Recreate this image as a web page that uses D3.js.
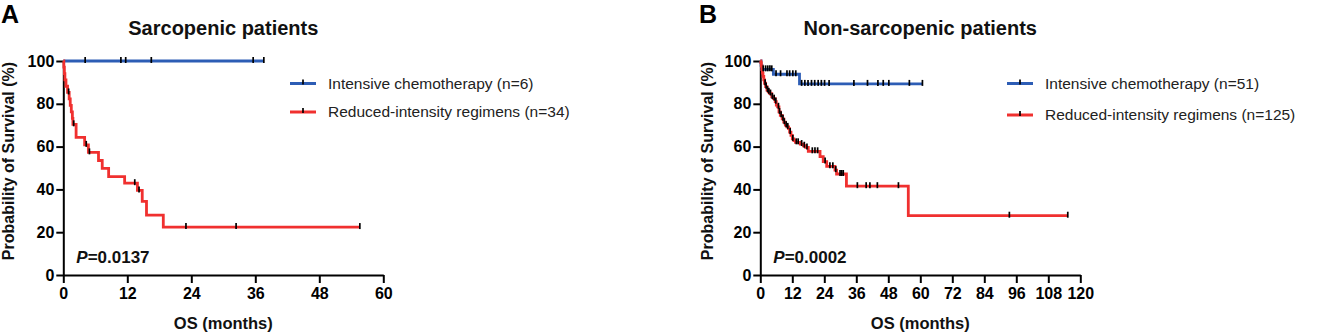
<!DOCTYPE html>
<html>
<head>
<meta charset="utf-8">
<script src="https://cdn.jsdelivr.net/npm/d3@7"></script>
<style>
  body { margin: 0; background: #fff; }
  text { font-family: Arial, "Liberation Sans", Helvetica, sans-serif; }
</style>
</head>
<body>
<svg id="chart"></svg>
<script>
// panel A: sarcopenic patients
const sarcIntTimes = [];
const sarcIntSurv = [];
const sarcIntCensor = [4.1, 10.8, 11.7, 16.5, 35.6, 37.6];
const sarcIntEnd = 37.6;

const sarcRedTimes = [0.1, 0.2, 0.3, 0.5, 0.8, 1.1, 1.3, 1.5, 1.7, 1.8, 2.4, 4.0, 4.7, 6.6, 7.3, 8.5, 11.5, 13.9, 14.8, 15.6, 18.75];
const sarcRedSurv = [97.1, 94.1, 91.2, 88.2, 85.3, 82.3, 79.3, 76.2, 73.2, 70.4, 64.3, 60.8, 57.3, 53.5, 49.8, 46.0, 42.9, 39.5, 34.4, 28.0, 22.4];
const sarcRedCensor = [1.0, 1.95, 4.3, 4.9, 13.4, 14.2, 23.0, 32.4, 55.6];
const sarcRedEnd = 55.6;

// panel B: non-sarcopenic patients
const nonIntTimes = [0.3, 0.6, 4.9, 14.7];
const nonIntSurv = [98.0, 96.1, 93.8, 89.3];
const nonIntCensor = [1.1, 2.0, 2.8, 3.6, 4.3, 5.9, 7.6, 10.0, 11.0, 12.2, 13.3,
  15.5, 16.7, 17.9, 19.2, 20.4, 21.7, 22.9, 24.1, 25.8, 35.1, 40.2, 44.1, 46.1, 48.2, 55.9, 60.8];
const nonIntEnd = 60.8;

const nonRedTimes = [0.2, 0.4, 0.6, 0.8, 1.0, 1.3, 1.6, 2.0, 2.5, 3.0, 3.6, 4.3, 5.0, 5.6, 6.0, 6.5, 7.0, 7.5,
  8.2, 8.8, 9.4, 10.0, 10.6, 11.0, 11.5, 12.0, 12.6, 13.2, 15.0, 16.2, 17.0, 18.0, 22.4, 23.6, 24.9, 28.0, 28.6, 32.3, 55.5];
const nonRedSurv = [99.2, 97.6, 96.0, 94.4, 92.8, 91.2, 89.6, 88.0, 86.4, 85.6, 84.8, 83.2, 82.4, 81.0, 79.4, 78.6, 76.2, 74.6,
  73.0, 71.4, 70.0, 69.2, 68.4, 66.8, 65.2, 63.6, 62.8, 62.0, 61.2, 60.4, 59.6, 57.8, 55.3, 53.0, 50.8, 49.0, 47.2, 41.5, 27.7];
const nonRedCensor = [1.8, 2.2, 2.7, 3.2, 3.8, 4.5, 5.2, 5.8, 6.8, 7.2, 7.8, 8.5, 9.0, 9.7, 10.3, 11.2, 12.2, 13.5, 14.2,
  15.5, 16.5, 17.5, 19.5, 20.5, 21.5, 24.3, 26.1, 27.2, 28.3, 29.9, 30.5, 31.1, 36.4, 39.7, 41.1, 43.9, 51.8, 93.4, 115.3];
const nonRedEnd = 115.4;

const yTicks = [0, 20, 40, 60, 80, 100];
const xTicksA = [0, 12, 24, 36, 48, 60];
const xTicksB = [0, 12, 24, 36, 48, 60, 72, 84, 96, 108, 120];

const blue = '#2d5db5';
const red = '#f0302f';

const svg = d3.select('#chart')
  .attr('width', 1321)
  .attr('height', 333);

const plotW = 320;
const plotH = 214;

const stepPoints = (times, surv, end) => {
  const pts = [[0, 100]];
  let cur = 100;
  times.forEach((t, i) => {
    pts.push([t, cur]);
    cur = surv[i];
    pts.push([t, cur]);
  });
  pts.push([end, cur]);
  return pts;
};

const survAt = (times, surv, t) => {
  let s = 100;
  times.forEach((tt, i) => { if (tt <= t) s = surv[i]; });
  return s;
};

const drawPanel = (opt) => {
  const g = svg.append('g').attr('transform', `translate(${opt.left},61)`);
  const x = d3.scaleLinear().domain([0, opt.xMax]).range([0, plotW]);
  const y = d3.scaleLinear().domain([0, 100]).range([plotH, 0]);

  const yAxis = g.append('g')
    .call(d3.axisLeft(y).tickValues(yTicks).tickSize(7).tickSizeOuter(0).tickPadding(2));
  const xAxis = g.append('g')
    .attr('transform', `translate(0,${plotH})`)
    .call(d3.axisBottom(x).tickValues(opt.xTicks).tickSize(8).tickSizeOuter(0).tickPadding(5));
  [yAxis, xAxis].forEach(a => {
    a.select('.domain').attr('stroke', '#000').attr('stroke-width', 2);
    a.selectAll('.tick line').attr('stroke', '#000').attr('stroke-width', 2);
    a.selectAll('.tick text')
      .attr('fill', '#000')
      .style('font-size', '16px')
      .style('font-weight', 'bold')
      .style('font-family', 'Arial, "Liberation Sans", sans-serif');
  });

  const line = d3.line().x(d => x(d[0])).y(d => y(d[1]));

  opt.series.forEach(s => {
    g.append('path')
      .datum(stepPoints(s.times, s.surv, s.end))
      .attr('fill', 'none')
      .attr('stroke', s.color)
      .attr('stroke-width', 2.8)
      .attr('d', line);
  });
  opt.series.forEach(s => {
    g.selectAll(null)
      .data(s.censor)
      .enter()
      .append('line')
      .attr('x1', d => x(d))
      .attr('x2', d => x(d))
      .attr('y1', d => y(survAt(s.times, s.surv, d)) - 4)
      .attr('y2', d => y(survAt(s.times, s.surv, d)) + 2)
      .attr('stroke', '#000')
      .attr('stroke-width', 1.7);
  });

  // p value
  const p = g.append('text')
    .attr('x', 13)
    .attr('y', 202)
    .style('font-size', '17px')
    .style('font-weight', 'bold')
    .attr('fill', '#111');
  p.append('tspan').style('font-style', 'italic').text('P');
  p.append('tspan').text(opt.pval);

  // axis titles
  g.append('text')
    .attr('x', plotW / 2)
    .attr('y', 268)
    .attr('text-anchor', 'middle')
    .style('font-size', '16.5px')
    .style('font-weight', 'bold')
    .attr('fill', '#111')
    .text('OS (months)');
  g.append('text')
    .attr('transform', `translate(${opt.yTitleX},${plotH / 2 - 7}) rotate(-90)`)
    .attr('text-anchor', 'middle')
    .style('font-size', '16px')
    .style('font-weight', 'bold')
    .attr('fill', '#111')
    .text('Probability of Survival (%)');

  // title + panel letter
  svg.append('text')
    .attr('x', opt.left + plotW / 2)
    .attr('y', 35)
    .attr('text-anchor', 'middle')
    .style('font-size', '20px')
    .style('font-weight', 'bold')
    .attr('fill', '#111')
    .text(opt.title);
  svg.append('text')
    .attr('x', opt.letterX)
    .attr('y', 23)
    .style('font-size', '25px')
    .style('font-weight', 'bold')
    .attr('fill', '#000')
    .text(opt.letter);

  // legend
  opt.series.forEach((s, i) => {
    const ly = opt.legendY[i];
    const lx = opt.legendX;
    svg.append('line')
      .attr('x1', lx).attr('x2', lx + 26)
      .attr('y1', ly).attr('y2', ly)
      .attr('stroke', s.color)
      .attr('stroke-width', 3);
    svg.append('line')
      .attr('x1', lx + 13).attr('x2', lx + 13)
      .attr('y1', ly - 4).attr('y2', ly + 1)
      .attr('stroke', '#000')
      .attr('stroke-width', 1.7);
    svg.append('text')
      .attr('x', lx + 38)
      .attr('y', ly)
      .attr('dy', '0.35em')
      .style('font-size', '15.5px')
      .attr('fill', '#222')
      .text(s.label);
  });
};

drawPanel({
  left: 63.3,
  xMax: 60,
  xTicks: xTicksA,
  title: 'Sarcopenic patients',
  letter: 'A',
  letterX: 1,
  yTitleX: -49.5,
  pval: '=0.0137',
  legendX: 290,
  legendY: [83.5, 112],
  series: [
    { times: sarcIntTimes, surv: sarcIntSurv, censor: sarcIntCensor, end: sarcIntEnd, color: blue, label: 'Intensive chemotherapy (n=6)' },
    { times: sarcRedTimes, surv: sarcRedSurv, censor: sarcRedCensor, end: sarcRedEnd, color: red, label: 'Reduced-intensity regimens (n=34)' }
  ]
});

drawPanel({
  left: 760.3,
  xMax: 120,
  xTicks: xTicksB,
  title: 'Non-sarcopenic patients',
  letter: 'B',
  letterX: 699,
  yTitleX: -47.5,
  pval: '=0.0002',
  legendX: 1007,
  legendY: [83.5, 115],
  series: [
    { times: nonIntTimes, surv: nonIntSurv, censor: nonIntCensor, end: nonIntEnd, color: blue, label: 'Intensive chemotherapy (n=51)' },
    { times: nonRedTimes, surv: nonRedSurv, censor: nonRedCensor, end: nonRedEnd, color: red, label: 'Reduced-intensity regimens (n=125)' }
  ]
});
</script>
</body>
</html>
